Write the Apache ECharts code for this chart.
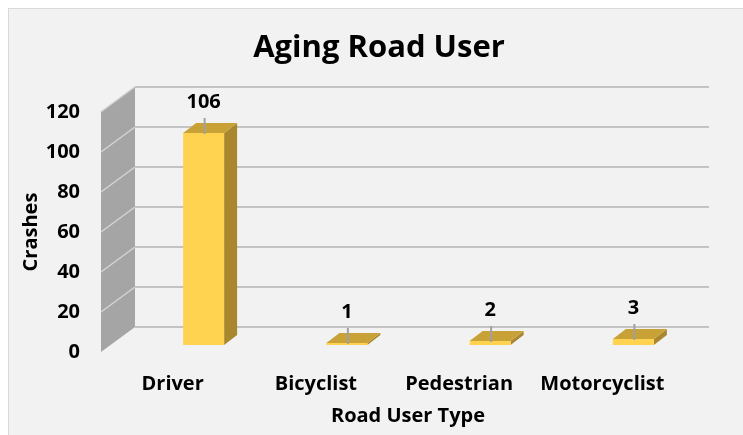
<!DOCTYPE html>
<html>
<head>
<meta charset="utf-8">
<script src="https://cdn.jsdelivr.net/npm/echarts@6/dist/echarts.min.js"></script>
<style>
html,body{margin:0;padding:0;background:#ffffff;}
#bg{position:absolute;left:8px;top:8px;width:735px;height:427px;background:#f2f2f2;border-left:1px solid #d9d9d9;border-top:1px solid #d9d9d9;box-sizing:border-box;}
#chart{position:absolute;left:0;top:0;width:743px;height:435px;}
</style>
</head>
<body>
<div id="bg"></div>
<div id="chart"></div>
<script>
const categories = ['Driver', 'Bicyclist', 'Pedestrian', 'Motorcyclist'];
const crashes = [106, 1, 2, 3];
const yTicks = [0, 20, 40, 60, 80, 100, 120];
const chartTitle = 'Aging Road User';
const xTitle = 'Road User Type';
const yTitle = 'Crashes';

const FONT = '"Open Sans", "Liberation Sans", sans-serif';
const yMin = yTicks[0], yMax = yTicks[yTicks.length - 1], yStep = yTicks[1] - yTicks[0];

const chart = echarts.init(document.getElementById('chart'), null, {renderer: 'canvas'});

function hiddenX(i) {
  return {type: 'category', gridIndex: i, data: categories, boundaryGap: true,
    axisLine: {show: false}, axisTick: {show: false}, axisLabel: {show: false}, splitLine: {show: false}};
}
function hiddenY(i) {
  return {type: 'value', gridIndex: i, min: yMin, max: yMax, interval: yStep,
    axisLine: {show: false}, axisTick: {show: false}, axisLabel: {show: false}, splitLine: {show: false}};
}

// oblique depth offsets of the side wall and bars
const WALL_DX = -34, WALL_DY = 25;
const BAR_DX = 13, BAR_DY = -10;

const option = {
  backgroundColor: 'transparent',
  animation: false,
  title: [
    {text: chartTitle, left: 379, top: 33, textAlign: 'center', padding: 0,
     textStyle: {fontFamily: FONT, fontWeight: 'bold', fontSize: 31, color: '#000'}},
    {text: xTitle, left: 408, top: 406, textAlign: 'center', padding: 0,
     textStyle: {fontFamily: FONT, fontWeight: 'bold', fontSize: 20, color: '#000'}}
  ],
  grid: [
    {left: 135, top: 87, width: 574, height: 240},   // back wall
    {left: 132, top: 105, width: 573, height: 240},  // bar plane
    {left: 101, top: 112, width: 573, height: 240}   // front edge (labels)
  ],
  xAxis: [
    hiddenX(0),
    hiddenX(1),
    {type: 'category', gridIndex: 2, data: categories, boundaryGap: true,
     axisLine: {show: false}, axisTick: {show: false}, splitLine: {show: false},
     axisLabel: {show: true, margin: 22, interval: 0, fontFamily: FONT, fontWeight: 'bold', fontSize: 20, color: '#000'}}
  ],
  yAxis: [
    {type: 'value', gridIndex: 0, min: yMin, max: yMax, interval: yStep,
     axisLine: {show: false}, axisTick: {show: false}, axisLabel: {show: false},
     splitLine: {show: true, lineStyle: {color: '#c3c3c3', width: 2}}},
    hiddenY(1),
    {type: 'value', gridIndex: 2, min: yMin, max: yMax, interval: yStep,
     axisLine: {show: false}, axisTick: {show: false}, splitLine: {show: false},
     axisLabel: {show: true, margin: 21, fontFamily: FONT, fontWeight: 'bold', fontSize: 20, color: '#000'},
     name: yTitle, nameLocation: 'middle', nameGap: 60, nameRotate: 90, nameMoveOverlap: false,
     nameTextStyle: {fontFamily: FONT, fontWeight: 'bold', fontSize: 20, color: '#000'}}
  ],
  series: [
    {
      // side wall, built from the back-wall axis ticks
      type: 'custom', xAxisIndex: 0, yAxisIndex: 0, z: 1,
      data: [[0, yMax]],
      renderItem: function (params, api) {
        const cs = params.coordSys;
        const x0 = cs.x;
        const yb = api.coord([0, yMin])[1];
        const yt = api.coord([0, yMax])[1];
        const children = [{
          type: 'polygon',
          shape: {points: [[x0, yb], [x0, yt], [x0 + WALL_DX, yt + WALL_DY], [x0 + WALL_DX, yb + WALL_DY]]},
          style: {fill: '#a5a5a5'}
        }];
        yTicks.forEach(function (v) {
          if (v === yMin || v === yMax) return;
          const y = api.coord([0, v])[1];
          children.push({type: 'line', shape: {x1: x0, y1: y, x2: x0 + WALL_DX, y2: y + WALL_DY},
            style: {stroke: '#d4d4d4', lineWidth: 1.5}});
        });
        children.push({type: 'line', shape: {x1: x0, y1: yt, x2: x0 + WALL_DX, y2: yt + WALL_DY},
          style: {stroke: '#c8c8c8', lineWidth: 1.5}});
        return {type: 'group', children: children};
      }
    },
    {
      type: 'custom', xAxisIndex: 1, yAxisIndex: 1, z: 5,
      data: crashes.map(function (v, i) { return [i, v]; }),
      renderItem: function (params, api) {
        const idx = api.value(0), val = api.value(1);
        const base = api.coord([idx, 0]);
        const top = api.coord([idx, val]);
        const bw = api.size([1, 0])[0] * 0.286;
        const xl = base[0] - bw / 2, xr = base[0] + bw / 2;
        const yb = base[1], yt = top[1];
        const cx = base[0];
        return {
          type: 'group',
          children: [
            {type: 'polygon', shape: {points: [[xr, yb], [xr, yt], [xr + BAR_DX, yt + BAR_DY], [xr + BAR_DX, yb + BAR_DY]]},
             style: {fill: '#a8872e'}},
            {type: 'polygon', shape: {points: [[xl, yt], [xr, yt], [xr + BAR_DX, yt + BAR_DY], [xl + BAR_DX, yt + BAR_DY]]},
             style: {fill: '#c8a236'}},
            {type: 'rect', shape: {x: xl, y: yt, width: bw, height: yb - yt},
             style: {fill: '#ffd34f'}},
            {type: 'line', shape: {x1: cx + 1, y1: yt - 15, x2: cx + 1, y2: yt + 1},
             style: {stroke: '#a0a0a0', lineWidth: 2}},
            {type: 'text', style: {text: String(val), x: cx, y: yt - 31, align: 'center', verticalAlign: 'middle',
              fill: '#000', font: 'bold 20px ' + FONT}}
          ]
        };
      }
    }
  ]
};
chart.setOption(option);
</script>
</body>
</html>
